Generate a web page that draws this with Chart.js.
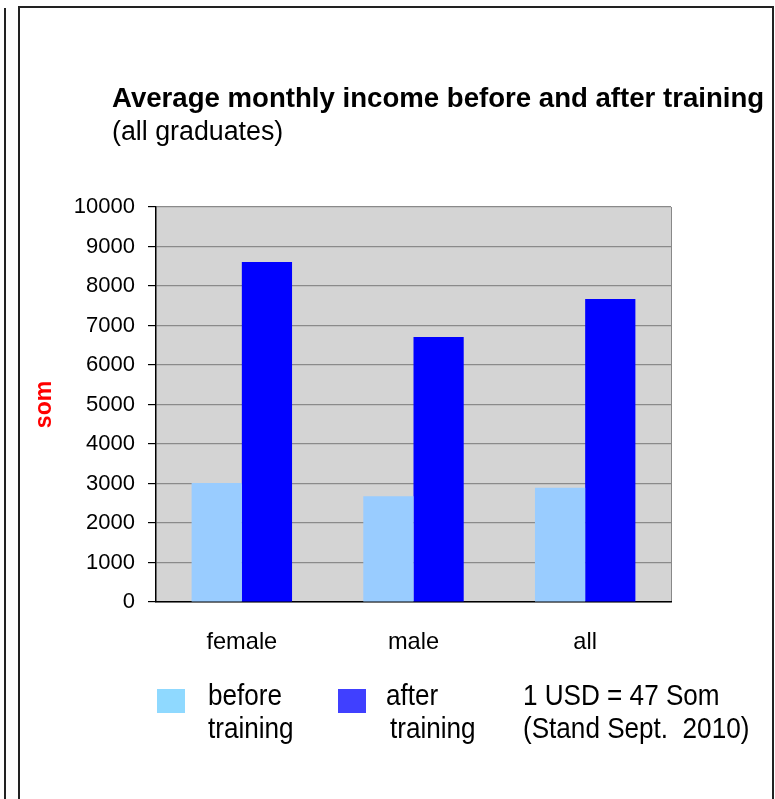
<!DOCTYPE html>
<html>
<head>
<meta charset="utf-8">
<script src="https://cdn.jsdelivr.net/npm/chart.js@4.4.1/dist/chart.umd.min.js"></script>
<style>
  html, body { margin: 0; padding: 0; background: #fff; }
  #wrap { width: 775px; height: 799px; position: relative; }
</style>
</head>
<body>
<div id="wrap"><canvas id="incomeChart"></canvas></div>
<script>
/* global Chart */

const categories = ['female', 'male', 'all']
const seriesLabels = [['before', 'training'], ['after', 'training']]
const beforeTraining = [3010, 2680, 2890]
const afterTraining = [8610, 6710, 7670]
const yMin = 0
const yMax = 10000
const yStep = 1000
const axisTitle = 'som'
const titleText = 'Average monthly income before and after training'
const subtitleText = '(all graduates)'
const noteLines = ['1 USD = 47 Som', '(Stand Sept.  2010)']

const FONT = '"Liberation Sans", Arial, sans-serif'

// narrow text, the legend in the original uses a condensed face
function narrowText (ctx, text, x, y) {
  ctx.save()
  ctx.translate(x, y)
  ctx.scale(0.9, 1)
  ctx.fillText(text, 0, 0)
  ctx.restore()
}

// frame, plot background, title, legend and note
const decor = {
  id: 'decor',
  beforeDraw (chart) {
    const { ctx, chartArea: a } = chart
    ctx.save()
    ctx.fillStyle = '#fff'
    ctx.fillRect(0, 0, chart.width, chart.height)

    ctx.strokeStyle = '#222'
    ctx.lineWidth = 2
    ctx.beginPath()
    ctx.moveTo(5, 8)
    ctx.lineTo(5, chart.height)
    ctx.moveTo(19, chart.height)
    ctx.lineTo(19, 7)
    ctx.lineTo(773, 7)
    ctx.lineTo(773, chart.height)
    ctx.stroke()

    ctx.fillStyle = '#d4d4d4'
    ctx.fillRect(a.left, a.top, a.right - a.left, a.bottom - a.top)
    ctx.strokeStyle = '#888'
    ctx.lineWidth = 1
    ctx.beginPath()
    ctx.moveTo(a.right + 0.5, a.top)
    ctx.lineTo(a.right + 0.5, a.bottom)
    ctx.stroke()
    ctx.restore()
  },
  afterDraw (chart) {
    const { ctx } = chart
    ctx.save()
    ctx.fillStyle = '#000'
    ctx.textBaseline = 'alphabetic'
    ctx.textAlign = 'left'
    ctx.font = 'bold 27.6px ' + FONT
    ctx.fillText(titleText, 112, 107)
    ctx.font = '26.8px ' + FONT
    ctx.fillText(subtitleText, 112, 140)

    // legend
    const boxX = [157, 338]
    const textX = [208, 386]
    ctx.font = '29px ' + FONT
    chart.data.datasets.forEach((ds, i) => {
      ctx.fillStyle = ds.legendColor
      ctx.fillRect(boxX[i], 689, 28, 24)
      ctx.fillStyle = '#000'
      ds.label.forEach((line, j) => {
        narrowText(ctx, line, textX[i] + j * (i === 1 ? 4 : 0), 705 + j * 33)
      })
    })
    noteLines.forEach((line, j) => {
      narrowText(ctx, line, 523, 705 + j * 33)
    })
    ctx.restore()
  }
}

new Chart(document.getElementById('incomeChart'), {
  type: 'bar',
  data: {
    labels: categories,
    datasets: [
      {
        label: seriesLabels[0],
        data: beforeTraining,
        backgroundColor: '#99ccff',
        legendColor: '#8fd9ff'
      },
      {
        label: seriesLabels[1],
        data: afterTraining,
        backgroundColor: '#0000ff',
        legendColor: '#4040ff'
      }
    ]
  },
  options: {
    responsive: true,
    maintainAspectRatio: false,
    animation: false,
    layout: { padding: { left: 20, top: 207, right: 104, bottom: 137 } },
    datasets: { bar: { categoryPercentage: 0.585, barPercentage: 1 } },
    plugins: {
      legend: { display: false },
      title: { display: false },
      tooltip: { enabled: false }
    },
    scales: {
      x: {
        afterFit (scale) { scale.height = 60 },
        grid: { display: false },
        border: { color: '#000', width: 1.5 },
        ticks: { color: '#000', padding: 18, font: { family: FONT, size: 23.6 } }
      },
      y: {
        min: yMin,
        max: yMax,
        afterFit (scale) { scale.width = 136 },
        border: { color: '#000', width: 1.5 },
        grid: { color: '#8a8a8a', lineWidth: 1.2, tickColor: '#000', tickLength: 8 },
        ticks: {
          stepSize: yStep,
          color: '#000',
          padding: 13,
          font: { family: FONT, size: 22 },
          callback: (value) => String(value)
        },
        title: {
          display: true,
          text: axisTitle,
          color: '#ff0000',
          padding: { top: 11, bottom: 0 },
          font: { family: FONT, size: 23, weight: 'bold' }
        }
      }
    }
  },
  plugins: [decor]
})
</script>
</body>
</html>
